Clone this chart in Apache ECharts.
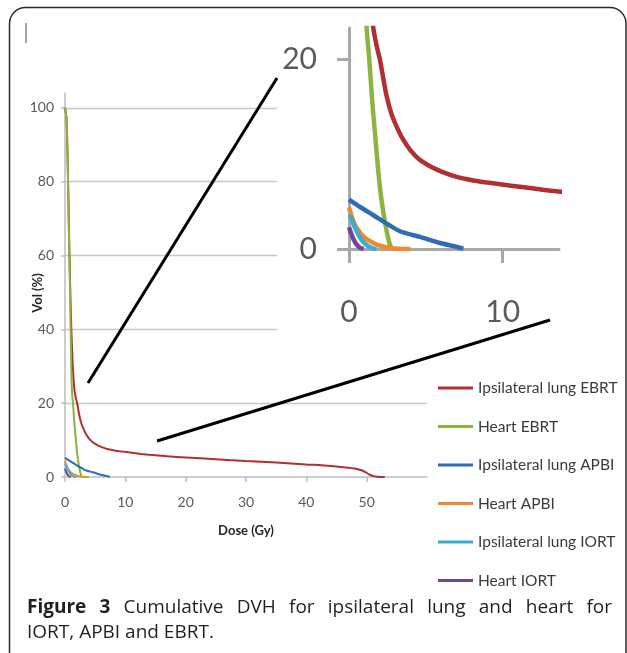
<!DOCTYPE html>
<html>
<head>
<meta charset="utf-8">
<script src="https://cdn.jsdelivr.net/npm/echarts@6.0.0/dist/echarts.min.js"></script>
<style>
  html, body { margin: 0; padding: 0; background: #fff; }
  #main { width: 627px; height: 653px; }
</style>
</head>
<body>
<div id="main"></div>
<script>
// dose (Gy), volume (%)
const lungEBRT = [[0,100],[0.25,97],[0.45,85],[0.65,68],[0.85,52],[1.05,40],[1.25,31.5],[1.42,26.5],[1.58,23.3],[1.8,21.4],[2.02,19.9],[2.25,17.8],[2.45,16.1],[2.75,14.3],[3.1,12.9],[3.5,11.6],[4.0,10.4],[4.6,9.4],[5.3,8.7],[6.1,8.1],[7.0,7.6],[8.0,7.25],[9.0,7.0],[10.2,6.75],[11.4,6.5],[12.6,6.25],[14,6.0],[17,5.6],[20,5.3],[25,4.8],[30,4.3],[35,3.9],[40,3.4],[44,3.0],[46.5,2.6],[48,2.3],[49,1.9],[49.8,1.3],[50.4,0.7],[51,0.3],[51.8,0.1],[53,0]];
const heartEBRT = [[0,100],[0.25,97],[0.45,85],[0.65,66],[0.85,48],[1.0,33],[1.15,23.3],[1.32,20],[1.5,15.8],[1.69,12.2],[1.9,8.3],[2.12,5.1],[2.4,2.3],[2.6,0.8],[2.77,0]];
const lungAPBI = [[0,5.2],[0.72,4.43],[1.59,3.56],[2.45,2.68],[3.32,1.87],[4.62,1.27],[5.92,0.63],[6.8,0.3],[7.44,0.04]];
const heartAPBI = [[0,4.4],[0.15,3.6],[0.35,2.7],[0.6,2.0],[0.95,1.3],[1.4,0.8],[1.9,0.4],[2.5,0.15],[3.2,0.03],[4.0,0]];
const lungIORT = [[0.05,3.6],[0.4,2.2],[0.8,1.0],[1.2,0.35],[1.6,0.05],[1.8,0]];
const heartIORT = [[0,2.3],[0.15,1.6],[0.3,1.0],[0.5,0.45],[0.7,0.15],[0.95,0]];

const names = ['Ipsilateral lung EBRT', 'Heart EBRT', 'Ipsilateral lung APBI', 'Heart APBI', 'Ipsilateral lung IORT', 'Heart IORT'];
const curves = [lungEBRT, heartEBRT, lungAPBI, heartAPBI, lungIORT, heartIORT];
const colors = ['#b22f2f', '#8db440', '#2f6cb6', '#ef8a2e', '#3aaed0', '#6f45a0'];

const insetX = [0, 10];
const insetY = [0, 20];

// caption, first line justified like the journal layout
const capFont = '"Open Sans", sans-serif';
const ctx = document.createElement('canvas').getContext('2d');
function textW(s, bold) {
  ctx.font = (bold ? 'bold ' : '') + '19px ' + capFont;
  return ctx.measureText(s).width;
}
const line1 = [['Figure', 1], ['3', 1], ['Cumulative', 0], ['DVH', 0], ['for', 0], ['ipsilateral', 0], ['lung', 0], ['and', 0], ['heart', 0], ['for', 0]];
let used = 0;
line1.forEach(w => { used += textW(w[0], w[1]); });
const spW = (585 - used) / (line1.length - 1);
const line1Rich = line1.map(w => '{' + (w[1] ? 'b' : 'n') + '|' + w[0] + '}').join('{sp| }');

const myChart = echarts.init(document.getElementById('main'));

const axisGrey = '#bdbdbd';
const labelStyle = { color: '#595959', fontFamily: 'Lato', fontSize: 14 };

const series = [];
curves.forEach((c, i) => {
  series.push({
    name: names[i], type: 'line', data: c, xAxisIndex: 0, yAxisIndex: 0,
    showSymbol: false, symbol: 'none', smooth: 0.25,
    lineStyle: { width: 2, color: colors[i] }, itemStyle: { color: colors[i] }, z: 2
  });
});
curves.forEach((c, i) => {
  series.push({
    name: names[i], type: 'line', data: c, xAxisIndex: 1, yAxisIndex: 1,
    showSymbol: false, symbol: 'none', smooth: 0.25,
    lineStyle: { width: 4.5, color: colors[i] }, itemStyle: { color: colors[i] }, z: 6
  });
});

const option = {
  animation: false,
  backgroundColor: '#fff',
  grid: [
    { left: 65, top: 93, width: 362, height: 384 },
    { left: 349, top: 28, width: 210, height: 221, z: 5 }
  ],
  xAxis: [
    {
      type: 'value', gridIndex: 0, min: 0, max: 60, interval: 10,
      name: 'Dose (Gy)', nameLocation: 'middle', nameGap: 47, nameMoveOverlap: false,
      nameTextStyle: { fontFamily: 'Lato', fontWeight: 'bold', fontSize: 13, color: '#262626' },
      axisLine: { lineStyle: { color: axisGrey, width: 1.5 } },
      axisTick: { length: 5, lineStyle: { color: axisGrey, width: 1.5 } },
      axisLabel: Object.assign({ margin: 18, showMaxLabel: false }, labelStyle),
      splitLine: { show: false }
    },
    {
      type: 'value', gridIndex: 1, min: 0, max: 13.66, interval: 10, z: 5,
      axisLine: { lineStyle: { color: '#a8a8a8', width: 3 } },
      axisTick: { length: 14, customValues: insetX, lineStyle: { color: '#a8a8a8', width: 3 } },
      axisLabel: { margin: 48, customValues: insetX, color: '#5a5a5a', fontFamily: 'Lato', fontSize: 30 },
      splitLine: { show: false }
    }
  ],
  yAxis: [
    {
      type: 'value', gridIndex: 0, min: 0, max: 104, interval: 20,
      name: 'Vol (%)', nameLocation: 'middle', nameGap: 21, nameMoveOverlap: false,
      nameTextStyle: { fontFamily: 'Lato', fontWeight: 'bold', fontSize: 13, color: '#262626', padding: [0, 16, 0, 0] },
      axisLine: { show: true, lineStyle: { color: axisGrey, width: 1.5 } },
      axisTick: { show: true, length: 4, lineStyle: { color: axisGrey, width: 1.5 } },
      axisLabel: Object.assign({ margin: 11, showMaxLabel: false }, labelStyle),
      splitLine: { showMaxLine: false, showMinLine: false, lineStyle: { color: '#c8c8c8', width: 1.3 } }
    },
    {
      type: 'value', gridIndex: 1, min: 0, max: 23.3, interval: 20, z: 5,
      axisLine: { show: true, lineStyle: { color: '#a8a8a8', width: 3 } },
      axisTick: { show: true, length: 12, customValues: insetY, lineStyle: { color: '#a8a8a8', width: 3 } },
      axisLabel: { margin: 32, customValues: insetY, color: '#5a5a5a', fontFamily: 'Lato', fontSize: 30 },
      splitLine: { showMaxLine: false, showMinLine: false, lineStyle: { color: '#c4c4c4', width: 3 } }
    }
  ],
  legend: {
    data: names, orient: 'vertical', left: 438, top: 380, padding: 0,
    icon: 'rect', itemWidth: 35, itemHeight: 3, itemGap: 22.5,
    textStyle: { fontFamily: 'Lato', fontSize: 15.5, color: '#3a3a3a', lineHeight: 16 }
  },
  graphic: [
    // white backdrop of the enlarged inset
    { type: 'rect', z: 4, silent: true, shape: { x: 277, y: 10, width: 344, height: 328 }, style: { fill: '#fff' } },
    // connector lines
    { type: 'line', z: 20, shape: { x1: 88, y1: 383, x2: 277, y2: 78 }, style: { stroke: '#000', lineWidth: 3 } },
    { type: 'line', z: 20, shape: { x1: 157, y1: 441, x2: 550, y2: 320 }, style: { stroke: '#000', lineWidth: 3 } },
    { type: 'line', z: 20, shape: { x1: 26, y1: 23, x2: 26, y2: 43 }, style: { stroke: '#8a8a8a', lineWidth: 1.5 } },
    // figure frame
    { type: 'rect', z: 20, shape: { x: 9.5, y: 7.5, width: 616.5, height: 660, r: 16 }, style: { fill: null, stroke: '#2a2a2a', lineWidth: 1.5 } },
    {
      type: 'text', z: 20, left: 27, top: 598,
      style: {
        text: line1Rich, fill: '#231f20',
        rich: {
          b: { fontFamily: capFont, fontSize: 19, fontWeight: 'bold', fill: '#231f20' },
          n: { fontFamily: capFont, fontSize: 19, fill: '#231f20' },
          sp: { fontFamily: capFont, fontSize: 19, width: spW }
        }
      }
    },
    {
      type: 'text', z: 20, left: 27, top: 623,
      style: { text: 'IORT, APBI and EBRT.', fontFamily: capFont, fontSize: 19, fill: '#231f20' }
    }
  ],
  series: series
};

myChart.setOption(option);
</script>
</body>
</html>
